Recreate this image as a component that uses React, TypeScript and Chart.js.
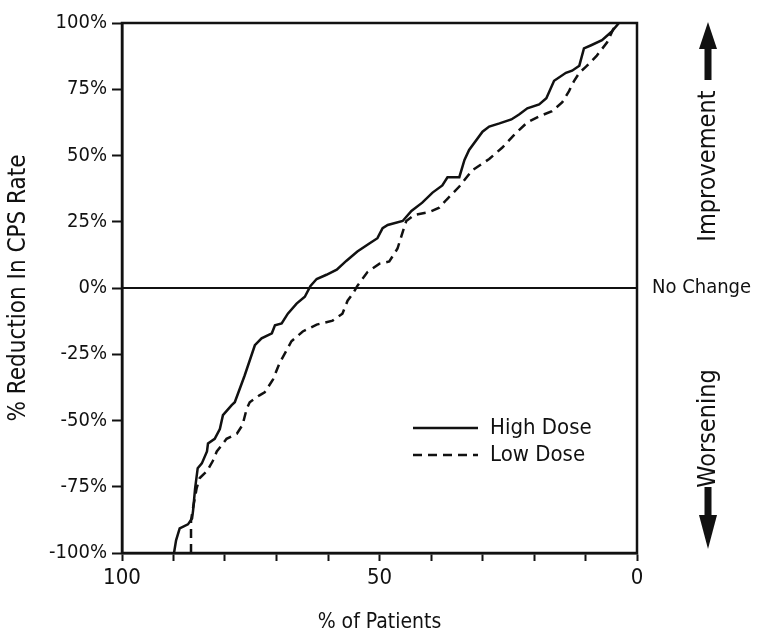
import React, { useEffect, useRef } from "react";
import { Chart, registerables } from "chart.js";

Chart.register(...registerables);

const FONT = '"DejaVu Sans Condensed", "Liberation Sans Narrow", "Arial Narrow", sans-serif';

const highLabel = "High Dose";
const lowLabel = "Low Dose";

const highX = [89.9, 89.5, 88.8, 87.2, 86.4, 86.2, 85.8, 85.3, 84.5, 83.5, 83.3, 82.0, 81.0, 80.4, 78.7, 78.1, 76.2, 74.2, 72.9, 70.9, 70.3, 69.0, 67.8, 66.1, 64.5, 63.4, 62.2, 60.3, 58.3, 56.4, 54.3, 51.9, 50.4, 49.4, 48.4, 45.5, 43.8, 41.7, 39.7, 37.8, 36.8, 34.5, 33.5, 32.6, 30.0, 28.7, 26.7, 24.4, 22.9, 21.3, 19.0, 17.6, 16.1, 13.8, 12.6, 11.2, 10.3, 8.9, 6.8, 5.0, 3.5];
const highY = [-100, -95.2, -90.7, -89.2, -87.0, -84.0, -75.5, -68.0, -66.2, -61.7, -58.7, -56.9, -53.2, -48.0, -44.2, -43.1, -33.1, -21.6, -19.0, -17.1, -14.1, -13.4, -9.7, -5.9, -3.3, 0.8, 3.4, 5.0, 6.9, 10.3, 13.8, 16.9, 18.8, 22.6, 23.8, 25.3, 29.1, 32.2, 36.0, 38.7, 41.8, 41.8, 48.3, 52.1, 59.0, 60.9, 62.1, 63.6, 65.5, 67.8, 69.3, 71.6, 78.2, 81.2, 82.0, 83.9, 90.4, 91.6, 93.5, 96.6, 100];

const lowX = [86.6, 86.6, 86.2, 85.5, 84.9, 83.5, 82.4, 81.6, 79.7, 77.7, 76.6, 75.8, 75.2, 73.3, 72.3, 70.7, 69.4, 68.0, 67.1, 64.9, 62.2, 59.1, 57.2, 56.2, 55.2, 54.3, 52.3, 50.0, 48.1, 46.5, 45.7, 44.8, 43.2, 40.3, 38.4, 37.0, 34.5, 32.0, 28.7, 26.2, 23.8, 21.3, 19.0, 16.5, 14.5, 13.2, 12.2, 11.2, 9.9, 7.8, 5.8, 4.7, 3.9];
const lowY = [-100, -87.7, -82.9, -75.5, -71.7, -69.1, -65.4, -61.7, -56.9, -55.0, -51.7, -45.7, -43.1, -40.5, -39.4, -34.6, -28.3, -23.4, -20.1, -16.4, -13.8, -12.3, -9.7, -4.8, -2.2, 0.8, 6.1, 9.2, 10.0, 14.9, 19.9, 25.3, 27.6, 28.7, 30.3, 33.3, 38.3, 44.4, 48.7, 52.9, 57.9, 62.5, 64.8, 66.7, 70.1, 74.3, 78.2, 81.2, 83.5, 87.7, 92.7, 97.3, 100];

const yTicks = [-100, -75, -50, -25, 0, 25, 50, 75, 100];
const xLabelled = [100, 50, 0];

const xTitle = "% of Patients";
const yTitle = "% Reduction In CPS Rate";
const upText = "Improvement";
const downText = "Worsening";
const zeroText = "No Change";

const INK = "#111111";

const decorPlugin = {
  id: "decor",
  afterDatasetsDraw(chart: any) {
    const { ctx, chartArea } = chart;
    const yScale = chart.scales.y;
    const { left, right, top, bottom } = chartArea;
    ctx.save();
    // frame
    ctx.strokeStyle = INK;
    ctx.lineWidth = 2.5;
    ctx.strokeRect(left, top, right - left, bottom - top);
    // zero line
    const y0 = yScale.getPixelForValue(0);
    ctx.lineWidth = 2;
    ctx.beginPath();
    ctx.moveTo(left, y0);
    ctx.lineTo(right, y0);
    ctx.stroke();
    // No Change
    ctx.fillStyle = INK;
    ctx.font = `20px ${FONT}`;
    ctx.textAlign = "left";
    ctx.textBaseline = "middle";
    ctx.fillText(zeroText, right + 15, y0);

    const ax = right + 71;
    // up arrow
    const yTop = yScale.getPixelForValue(100);
    ctx.beginPath();
    ctx.moveTo(ax, yTop - 1);
    ctx.lineTo(ax + 9, yTop + 26);
    ctx.lineTo(ax - 9, yTop + 26);
    ctx.closePath();
    ctx.fill();
    ctx.fillRect(ax - 3.5, yTop + 20, 7, 37);
    // down arrow
    const yBot = yScale.getPixelForValue(-100);
    ctx.beginPath();
    ctx.moveTo(ax, yBot - 4);
    ctx.lineTo(ax + 9, yBot - 38);
    ctx.lineTo(ax - 9, yBot - 38);
    ctx.closePath();
    ctx.fill();
    ctx.fillRect(ax - 3.5, yBot - 66, 7, 32);

    // rotated texts
    ctx.font = `25px ${FONT}`;
    ctx.textAlign = "center";
    ctx.textBaseline = "middle";
    ctx.save();
    ctx.translate(ax, yScale.getPixelForValue(46));
    ctx.rotate(-Math.PI / 2);
    ctx.fillText(upText, 0, 0);
    ctx.restore();
    ctx.save();
    ctx.translate(ax, yScale.getPixelForValue(-53));
    ctx.rotate(-Math.PI / 2);
    ctx.fillText(downText, 0, 0);
    ctx.restore();

    // legend
    const lx0 = left + 291;
    const lx1 = left + 356;
    const ly = [428, 455];
    chart.data.datasets.forEach((ds: any, i: number) => {
      ctx.save();
      ctx.strokeStyle = ds.borderColor;
      ctx.lineWidth = ds.borderWidth;
      ctx.setLineDash(ds.borderDash || []);
      ctx.beginPath();
      ctx.moveTo(lx0, ly[i]);
      ctx.lineTo(lx1, ly[i]);
      ctx.stroke();
      ctx.restore();
      ctx.fillStyle = INK;
      ctx.font = `22px ${FONT}`;
      ctx.textAlign = "left";
      ctx.textBaseline = "middle";
      ctx.fillText(ds.label, lx1 + 12, ly[i]);
    });
    ctx.restore();
  },
};

export default function App() {
  const ref = useRef<HTMLCanvasElement | null>(null);
  useEffect(() => {
    document.body.style.margin = "0";
    const canvas = ref.current;
    if (!canvas) return;
    const high = highX.map((x, i) => ({ x, y: highY[i] }));
    const low = lowX.map((x, i) => ({ x, y: lowY[i] }));
    const chart = new Chart(canvas, {
      type: "line",
      data: {
        datasets: [
          { label: highLabel, data: high, borderColor: INK, borderWidth: 2.5, pointRadius: 0, tension: 0, fill: false },
          { label: lowLabel, data: low, borderColor: INK, borderWidth: 2.5, borderDash: [9, 6], pointRadius: 0, tension: 0, fill: false },
        ],
      },
      options: {
        animation: false,
        responsive: false,
        devicePixelRatio: 1,
        layout: { padding: { left: 0, top: 23, right: 124, bottom: 0 } },
        plugins: { legend: { display: false }, tooltip: { enabled: false } },
        scales: {
          x: {
            type: "linear",
            reverse: true,
            min: 0,
            max: 100,
            afterFit: (s: any) => { s.height = 86; },
            ticks: {
              stepSize: 10,
              autoSkip: false,
              maxRotation: 0,
              color: INK,
              padding: 4,
              font: { family: FONT, size: 22 },
              callback: (v: any) => (xLabelled.includes(Number(v)) ? String(v) : ""),
            },
            grid: { drawOnChartArea: false, drawTicks: true, tickLength: 8, tickColor: INK, tickWidth: 2 },
            border: { color: INK, width: 2.5 },
            title: { display: true, text: xTitle, color: INK, font: { family: FONT, size: 21 }, padding: { top: 0, bottom: 4 } },
          },
          y: {
            type: "linear",
            min: -100,
            max: 100,
            afterFit: (s: any) => { s.width = 122; },
            afterBuildTicks: (s: any) => { s.ticks = yTicks.map((v) => ({ value: v })); },
            ticks: {
              color: INK,
              padding: 5,
              font: { family: FONT, size: 20 },
              callback: (v: any) => `${v}%`,
            },
            grid: { drawOnChartArea: false, drawTicks: true, tickLength: 10, tickColor: INK, tickWidth: 2 },
            border: { color: INK, width: 2.5 },
            title: { display: true, text: yTitle, color: INK, font: { family: FONT, size: 24 }, padding: { top: 4, bottom: 0 } },
          },
        },
      },
      plugins: [decorPlugin],
    });
    return () => chart.destroy();
  }, []);
  return <canvas ref={ref} width={761} height={639} style={{ display: "block" }} />;
}
